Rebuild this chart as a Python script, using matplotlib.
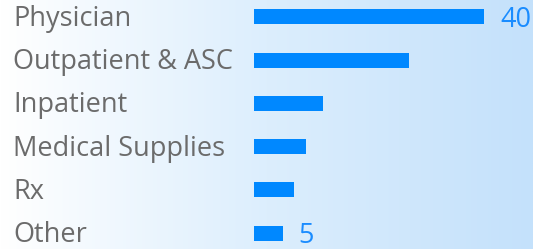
import numpy as np
import matplotlib
matplotlib.use("Agg")
import matplotlib.pyplot as plt
from matplotlib.colors import LinearSegmentedColormap
import matplotlib.transforms as mtransforms

categories = ["Physician", "Outpatient & ASC", "Inpatient", "Medical Supplies", "Rx", "Other"]
values = [40, 27, 12, 9, 7, 5]
labelled = {0: "40", 5: "5"}

W, H = 533, 249
fig = plt.figure(figsize=(W / 100, H / 100), dpi=100)

# gradient background
bg = fig.add_axes([0, 0, 1, 1])
grad = np.linspace(0, 1, 256).reshape(1, -1)
cmap = LinearSegmentedColormap.from_list("bg", ["#ffffff", "#dceefd", "#c4e1fb"])
bg.imshow(grad, aspect="auto", cmap=cmap, extent=[0, 1, 0, 1])
bg.set_axis_off()

left = 254 / W
ax = fig.add_axes([left, 0, 1 - left, 1])
ax.patch.set_alpha(0)
px_per_unit = 230 / 40
ax.set_xlim(0, (W - 254) / px_per_unit)
spacing = 43.2
y = np.arange(len(categories))
ax.set_ylim(5 + (H - 233) / spacing, -17 / spacing)
ax.barh(y, values, height=15 / spacing, color="#0088ff")
ax.set_axis_off()

trans = mtransforms.blended_transform_factory(fig.transFigure, ax.transData)
for i, c in enumerate(categories):
    off = mtransforms.offset_copy(trans, fig=fig, x=0, y=-9, units="dots")
    fig.text(13 / W, i, c, transform=off, fontsize=19.5, color="#6b6b6b",
             family="Open Sans", va="baseline", ha="left")

for i, t in labelled.items():
    off = mtransforms.offset_copy(ax.transData, fig=fig, x=16, y=-10, units="dots")
    ax.text(values[i], i, t, transform=off, fontsize=19.5, color="#1a8cff",
            family="Open Sans", va="baseline", ha="left", clip_on=False)

fig.savefig("out.png", dpi=100)
